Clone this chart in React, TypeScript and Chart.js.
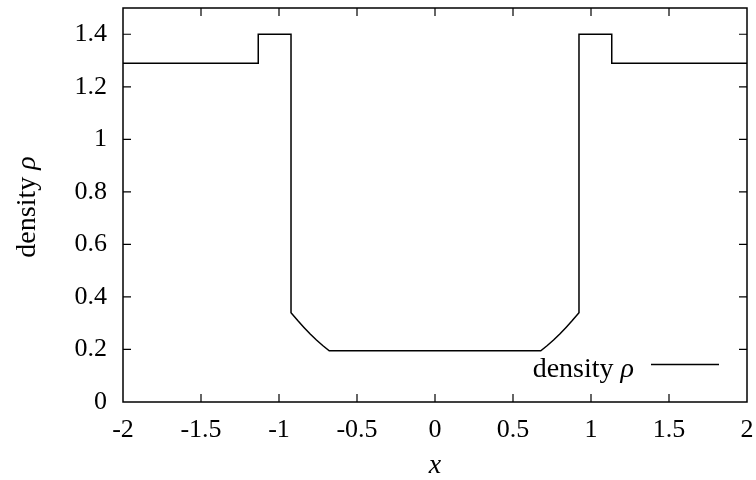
import React, { useEffect, useRef } from "react";
import { Chart, registerables } from "chart.js";

Chart.register(...registerables);

// ---- data ----
const xValues = [
  -2, -1.133, -1.133, -0.923, -0.923, -0.88, -0.84, -0.8, -0.76, -0.72, -0.678,
  0.678, 0.72, 0.76, 0.8, 0.84, 0.88, 0.923, 0.923, 1.133, 1.133, 2,
];
const densityValues = [
  1.29, 1.29, 1.4, 1.4, 0.34, 0.31, 0.284, 0.259, 0.236, 0.215, 0.195,
  0.195, 0.215, 0.236, 0.259, 0.284, 0.31, 0.34, 1.4, 1.4, 1.29, 1.29,
];
const xTickValues = [-2, -1.5, -1, -0.5, 0, 0.5, 1, 1.5, 2];
const xTickLabels = ["-2", "-1.5", "-1", "-0.5", "0", "0.5", "1", "1.5", "2"];
const yTickValues = [0, 0.2, 0.4, 0.6, 0.8, 1, 1.2, 1.4];
const yTickLabels = ["0", "0.2", "0.4", "0.6", "0.8", "1", "1.2", "1.4"];
const seriesName = "density";
const seriesSymbol = "ρ";
const xTitle = "x";
const yTitleText = "density";
const yTitleSymbol = "ρ";

const FONT = "'Liberation Serif', 'DejaVu Serif', 'Times New Roman', Times, serif";
const FS = 26;
const TFS = 28;

const framePlugin = {
  id: "gnuplotFrame",
  afterDraw(chart: any) {
    const { ctx, chartArea: a, scales } = chart;
    ctx.save();
    ctx.strokeStyle = "#000";
    ctx.fillStyle = "#000";
    ctx.lineWidth = 1.5;
    ctx.strokeRect(a.left, a.top, a.right - a.left, a.bottom - a.top);
    const TL = 8;
    ctx.lineWidth = 1.2;
    ctx.beginPath();
    scales.x.ticks.forEach((t: any) => {
      const px = scales.x.getPixelForValue(t.value);
      if (px <= a.left + 1 || px >= a.right - 1) return;
      ctx.moveTo(px, a.bottom);
      ctx.lineTo(px, a.bottom - TL);
      ctx.moveTo(px, a.top);
      ctx.lineTo(px, a.top + TL);
    });
    scales.y.ticks.forEach((t: any) => {
      const py = scales.y.getPixelForValue(t.value);
      if (py <= a.top + 1 || py >= a.bottom - 1) return;
      ctx.moveTo(a.left, py);
      ctx.lineTo(a.left + TL, py);
      ctx.moveTo(a.right, py);
      ctx.lineTo(a.right - TL, py);
    });
    ctx.stroke();

    const regular = `${TFS}px ${FONT}`;
    const italic = `italic ${TFS}px ${FONT}`;
    ctx.font = regular;
    const w1 = ctx.measureText(yTitleText + " ").width;
    ctx.font = italic;
    const w2 = ctx.measureText(yTitleSymbol).width;
    ctx.save();
    ctx.translate(35, (a.top + a.bottom) / 2 + 2);
    ctx.rotate(-Math.PI / 2);
    ctx.textBaseline = "alphabetic";
    ctx.textAlign = "left";
    const start = -(w1 + w2) / 2;
    ctx.font = regular;
    ctx.fillText(yTitleText + " ", start, 0);
    ctx.font = italic;
    ctx.fillText(yTitleSymbol, start + w1, 0);
    ctx.restore();

    ctx.font = italic;
    ctx.textAlign = "center";
    ctx.textBaseline = "alphabetic";
    ctx.fillText(xTitle, (a.left + a.right) / 2, 473);

    const ds = chart.data.datasets[0];
    ctx.font = italic;
    const lw2 = ctx.measureText(seriesSymbol).width;
    ctx.font = regular;
    const lw1 = ctx.measureText(ds.label + " ").width;
    const textRight = 634;
    ctx.textAlign = "left";
    ctx.fillText(ds.label + " ", textRight - lw2 - lw1, 377);
    ctx.font = italic;
    ctx.fillText(seriesSymbol, textRight - lw2, 377);
    ctx.lineWidth = 1.5;
    ctx.strokeStyle = ds.borderColor;
    ctx.beginPath();
    ctx.moveTo(651, 364.5);
    ctx.lineTo(719, 364.5);
    ctx.stroke();
    ctx.restore();
  },
};

export default function App() {
  const canvasRef = useRef<HTMLCanvasElement | null>(null);

  useEffect(() => {
    document.body.style.margin = "0";
    const canvas = canvasRef.current;
    if (!canvas) return;
    const chart = new Chart(canvas, {
      type: "scatter",
      data: {
        datasets: [
          {
            label: seriesName,
            data: xValues.map((x, i) => ({ x, y: densityValues[i] })),
            showLine: true,
            borderColor: "#000",
            borderWidth: 1.5,
            pointRadius: 0,
            pointHoverRadius: 0,
            tension: 0,
            fill: false,
          },
        ],
      },
      options: {
        responsive: false,
        animation: false,
        events: [],
        layout: { padding: { top: 8, right: 9, left: 0, bottom: 0 } },
        plugins: {
          legend: { display: false },
          tooltip: { enabled: false },
          title: { display: false },
        },
        scales: {
          x: {
            type: "linear",
            min: -2,
            max: 2,
            afterBuildTicks: (s: any) => {
              s.ticks = xTickValues.map((v) => ({ value: v }));
            },
            afterFit: (s: any) => {
              s.height = 78;
              s.paddingLeft = 0;
              s.paddingRight = 0;
            },
            grid: { display: false, drawTicks: false },
            border: { display: false },
            ticks: {
              autoSkip: false,
              maxRotation: 0,
              padding: 13,
              color: "#000",
              font: { family: FONT, size: FS },
              callback: (v: any) => {
                const i = xTickValues.findIndex((t) => Math.abs(t - v) < 1e-9);
                return i >= 0 ? xTickLabels[i] : "";
              },
            },
          },
          y: {
            type: "linear",
            min: 0,
            max: 1.5,
            afterBuildTicks: (s: any) => {
              s.ticks = yTickValues.map((v) => ({ value: v }));
            },
            afterFit: (s: any) => {
              s.width = 123;
              s.paddingTop = 0;
              s.paddingBottom = 0;
            },
            grid: { display: false, drawTicks: false },
            border: { display: false },
            ticks: {
              autoSkip: false,
              padding: 16,
              color: "#000",
              font: { family: FONT, size: FS },
              callback: (v: any) => {
                const i = yTickValues.findIndex((t) => Math.abs(t - v) < 1e-9);
                return i >= 0 ? yTickLabels[i] : "";
              },
            },
          },
        },
      },
      plugins: [framePlugin],
    } as any);
    return () => chart.destroy();
  }, []);

  return (
    <div style={{ position: "absolute", left: 0, top: 0, width: 756, height: 480, background: "#fff" }}>
      <canvas ref={canvasRef} width={756} height={480} style={{ display: "block" }} />
    </div>
  );
}
